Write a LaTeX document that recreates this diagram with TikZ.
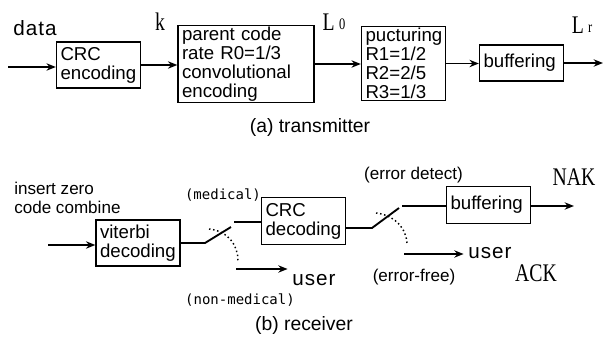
\documentclass[tikz,border=0pt]{standalone}
\usepackage{fontspec}
\setmainfont{Liberation Sans}
\newfontfamily\serifL[FakeStretch=0.78]{Liberation Serif}
\newfontfamily\spaced[LetterSpace=5]{Liberation Sans}
\newfontfamily\monoF{DejaVu Sans Mono}
\usetikzlibrary{arrows.meta}
\tikzset{box/.style={draw,line width=1pt,align=left,text width=57pt,inner xsep=3pt,inner ysep=1pt,
    font=\fontsize{14}{14.3}\selectfont}}

\begin{document}
\begin{tikzpicture}[x=0.75pt,y=-0.75pt,
    arr/.style={line width=1.4pt,-{Stealth[length=7pt,width=5.5pt]}},
    wire/.style={line width=1.4pt},
    swarc/.style={dotted,line width=1.1pt},
    serif/.style={font=\fontsize{19}{19}\serifL},
    note/.style={font=\fontsize{12.8}{14.3}\selectfont},
    monotxt/.style={font=\fontsize{10.5}{10.5}\monoF},
    user/.style={font=\fontsize{15.5}{15.5}\spaced},
    captxt/.style={font=\fontsize{14.5}{14.5}\selectfont}]
    \useasboundingbox (0,0) rectangle (604,336);
    % transmitter
    \node[user] (data) at (35,28) {data};
    \coordinate (in) at (8,67);
    \node[box,minimum height=34.5pt] (crc) at (98.5,65) {CRC\\encoding};
    \node[serif] (k) at (160,22) {k};
    \node[box,text width=96pt,minimum height=55.5pt] (par) at (246,64)
        {parent code\\rate R0=1/3\\convolutional\\encoding};
    \node[serif] (l0) at (334,22) {L\,\raisebox{0.5pt}{\fontsize{12}{12}\selectfont 0}};
    \node[box,minimum height=55.5pt] (pun) at (403.5,63.5) {pucturing\\R1=1/2\\R2=2/5\\R3=1/3};
    \node[box,minimum height=27pt] (buf) at (521.5,63) {buffering};
    \node[serif] (lr) at (582,25) {L\,\raisebox{0.5pt}{\fontsize{12}{12}\selectfont r}};
    \coordinate (out) at (603,63);
    \draw[arr] (in) -- (in -| crc.west);
    \draw[arr] (crc) -- (crc -| par.west);
    \draw[arr] (par) -- (par -| pun.west);
    \draw[arr] (pun) -- (pun -| buf.west);
    \draw[arr] (buf) -- (out);
    \node[captxt] (capa) at (310,127) {(a) transmitter};

    % receiver
    \node[note,anchor=north west,align=left,inner sep=0pt] (ins) at (14,182) {insert zero\\code combine};
    \coordinate (vin) at (48,245);
    \node[box,minimum height=34.5pt] (vit) at (138,243) {viterbi\\decoding};
    \node[box,minimum height=35pt] (crcd) at (303.5,221) {CRC\\decoding};
    \node[box,minimum height=28pt] (bufr) at (488.5,205) {buffering};
    \draw[arr] (vin) -- (vin -| vit.west);
    % first switch
    \coordinate (s1a) at (205,243);
    \coordinate (s1b) at (231,227);
    \coordinate (s1c) at (234,222);
    \draw[wire] (vit.east) -- (s1a) -- (s1b);
    \draw[wire] (s1c) -- (s1c -| crcd.west);
    \coordinate (d1a) at (209,229);
    \coordinate (d1b) at (238,261);
    \draw[swarc] (d1a) .. controls (228,231) and (238,245) .. (d1b);
    \node[monotxt] (med) at (223,195) {(medical)};
    \node[monotxt] (nonmed) at (240,300) {(non-medical)};
    \coordinate (u1a) at (236,269);
    \node[user] (user1) at (314,280) {user};
    \draw[arr] (u1a) -- (u1a -| user1.west);
    % second switch
    \coordinate (s2a) at (372,228);
    \coordinate (s2b) at (399,208);
    \coordinate (s2c) at (402,206);
    \draw[wire] (s2a -| crcd.east) -- (s2a) -- (s2b);
    \draw[wire] (s2c) -- (s2c -| bufr.west);
    \coordinate (nak) at (574,206);
    \draw[arr] (nak -| bufr.east) -- (nak);
    \coordinate (d2a) at (376,213);
    \coordinate (d2b) at (407,245);
    \draw[swarc] (d2a) .. controls (394,215) and (407,228) .. (d2b);
    \node[note] (errdet) at (413.5,175) {(error detect)};
    \node[note] (errfree) at (414,277) {(error-free)};
    \coordinate (u2a) at (404,254);
    \node[user] (user2) at (490,253) {user};
    \draw[arr] (u2a) -- (u2a -| user2.west);
    \node[serif] (naklbl) at (574,177) {NAK};
    \node[serif] (ack) at (536,273) {ACK};
    \node[captxt] (capb) at (304,325) {(b) receiver};
\end{tikzpicture}
\end{document}
